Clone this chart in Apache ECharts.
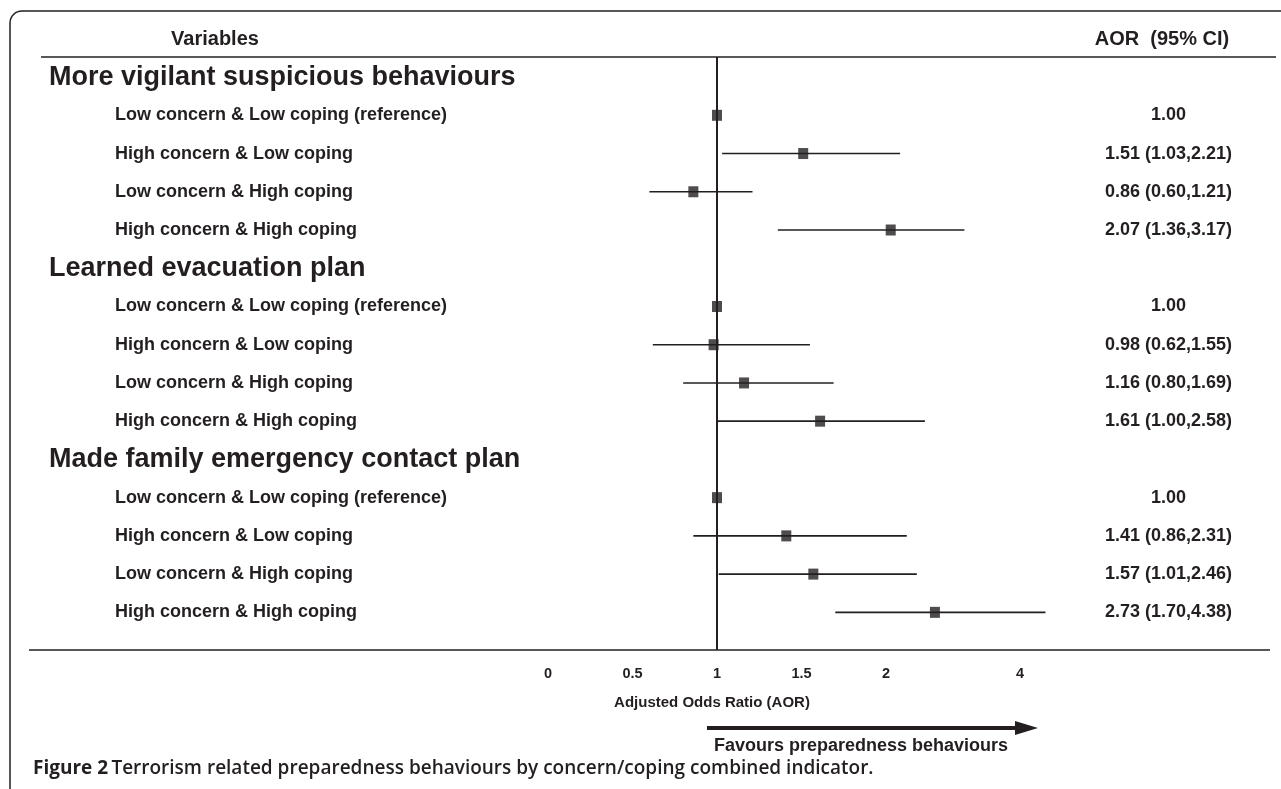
<!DOCTYPE html>
<html>
<head>
<meta charset="utf-8">
<script src="https://cdn.jsdelivr.net/npm/echarts@6/dist/echarts.min.js"></script>
<style>
html,body{margin:0;padding:0;background:#fff;}
#chart{width:1281px;height:789px;}
</style>
</head>
<body>
<div id="chart"></div>
<script>
// ---------- data ----------
const groups = ['More vigilant suspicious behaviours', 'Learned evacuation plan', 'Made family emergency contact plan'];
const levels = ['Low concern & Low coping (reference)', 'High concern & Low coping', 'Low concern & High coping', 'High concern & High coping'];
const aorVigilant = [1.00, 1.51, 0.86, 2.07];
const lowVigilant = [null, 1.03, 0.60, 1.36];
const highVigilant = [null, 2.21, 1.21, 3.17];
const aorEvacuation = [1.00, 0.98, 1.16, 1.61];
const lowEvacuation = [null, 0.62, 0.80, 1.00];
const highEvacuation = [null, 1.55, 1.69, 2.58];
const aorFamily = [1.00, 1.41, 1.57, 2.73];
const lowFamily = [null, 0.86, 1.01, 1.70];
const highFamily = [null, 2.31, 2.46, 4.38];
const xTickValues = [0, 0.5, 1, 1.5, 2, 4];
const referenceValue = 1;

// ---------- build rows ----------
const aors = [aorVigilant, aorEvacuation, aorFamily];
const lows = [lowVigilant, lowEvacuation, lowFamily];
const highs = [highVigilant, highEvacuation, highFamily];
const rowLabels = [];
const rightLabels = {};
const points = [];
const cis = [];
const itemRows = [];
groups.forEach((g, gi) => {
  rowLabels.push('{t|' + g + '}');
  levels.forEach((lv, li) => {
    const idx = rowLabels.length;
    rowLabels.push('{i|' + lv + '}');
    itemRows.push(idx);
    const a = aors[gi][li], lo = lows[gi][li], hi = highs[gi][li];
    points.push([a, idx]);
    rightLabels[idx] = lo == null ? a.toFixed(2) : a.toFixed(2) + ' (' + lo.toFixed(2) + ',' + hi.toFixed(2) + ')';
    if (lo != null) cis.push([lo, hi, idx]);
  });
});
const allRows = rowLabels.map((_, i) => i);

const ink = '#231f20';
const sans = '"Liberation Sans", Arial, sans-serif';
const chart = echarts.init(document.getElementById('chart'), null, {renderer: 'canvas'});

const yCommon = {
  type: 'value', inverse: true, min: -0.525, max: 14.985,
  axisLine: {show: false}, axisTick: {show: false}, splitLine: {show: false}
};

chart.setOption({
  animation: false,
  backgroundColor: '#fff',
  grid: {left: 548, right: 227.5, top: 57, bottom: 139},
  xAxis: {
    type: 'value', min: 0, max: 4.5,
    breaks: [
      {start: 2, end: 4, gap: 0.793},
      {start: 4, end: 4.5, gap: 0.198}
    ],
    breakArea: {show: false, expandOnClick: false},
    axisLine: {show: false}, axisTick: {show: false}, splitLine: {show: false},
    axisLabel: {
      customValues: xTickValues,
      formatter: v => String(v),
      fontFamily: sans, fontWeight: 'bold', fontSize: 14.5, color: ink, margin: 16
    }
  },
  yAxis: [
    Object.assign({}, yCommon, {
      position: 'left',
      axisLabel: {
        customValues: allRows,
        formatter: v => rowLabels[Math.round(v)],
        align: 'left', margin: 499,
        rich: {
          t: {fontFamily: sans, fontWeight: 'bold', fontSize: 27, color: ink},
          i: {fontFamily: sans, fontWeight: 'bold', fontSize: 18, color: ink, padding: [0, 0, 0, 66]}
        }
      }
    }),
    Object.assign({}, yCommon, {
      position: 'right',
      axisLabel: {
        customValues: itemRows,
        formatter: v => rightLabels[Math.round(v)],
        align: 'center', margin: 115,
        fontFamily: sans, fontWeight: 'bold', fontSize: 18, color: ink
      }
    })
  ],
  series: [
    {
      type: 'custom',
      data: cis,
      encode: {x: [0, 1], y: 2},
      renderItem: (params, api) => {
        const y = api.value(2);
        const p1 = api.coord([api.value(0), y]);
        const p2 = api.coord([api.value(1), y]);
        return {type: 'line', shape: {x1: p1[0], y1: p1[1], x2: p2[0], y2: p2[1]},
          style: {stroke: ink, lineWidth: 1.6}};
      },
      silent: true
    },
    {
      type: 'scatter',
      data: points,
      symbol: 'rect', symbolSize: [10, 11],
      itemStyle: {color: ink},
      z: 5,
      silent: true,
      markLine: {
        silent: true, symbol: 'none', label: {show: false},
        lineStyle: {color: ink, width: 2, type: 'solid'},
        data: [{xAxis: referenceValue}]
      }
    }
  ],
  graphic: [
    {type: 'rect', shape: {x: 10, y: 11, width: 1300, height: 820, r: 12},
      style: {fill: 'none', stroke: ink, lineWidth: 1.5}, silent: true},
    {type: 'line', shape: {x1: 41, y1: 57, x2: 1276, y2: 57}, style: {stroke: ink, lineWidth: 1.5}},
    {type: 'line', shape: {x1: 29, y1: 650, x2: 1270, y2: 650}, style: {stroke: ink, lineWidth: 1.5}},
    {type: 'text', x: 215, y: 39, style: {text: 'Variables', fill: ink, font: 'bold 20px ' + sans, align: 'center', verticalAlign: 'middle'}},
    {type: 'text', x: 1162, y: 39, style: {text: 'AOR  (95% CI)', fill: ink, font: 'bold 20px ' + sans, align: 'center', verticalAlign: 'middle'}},
    {type: 'text', x: 712, y: 703, style: {text: 'Adjusted Odds Ratio (AOR)', fill: ink, font: 'bold 15px ' + sans, align: 'center', verticalAlign: 'middle'}},
    {type: 'line', shape: {x1: 707, y1: 728, x2: 1018, y2: 728}, style: {stroke: ink, lineWidth: 4}},
    {type: 'polygon', shape: {points: [[1015, 721], [1038, 728], [1015, 735]]}, style: {fill: ink}},
    {type: 'text', x: 861, y: 746, style: {text: 'Favours preparedness behaviours', fill: ink, font: 'bold 18px ' + sans, align: 'center', verticalAlign: 'middle'}},
    {type: 'text', x: 33, y: 769, style: {
      text: '{b|Figure 2} {n|Terrorism related preparedness behaviours by concern/coping combined indicator.}',
      verticalAlign: 'middle',
      rich: {
        b: {font: 'bold 19px "Open Sans", sans-serif', fill: ink},
        n: {font: '600 19px "Open Sans", sans-serif', fill: ink}
      }
    }}
  ]
});
</script>
</body>
</html>
